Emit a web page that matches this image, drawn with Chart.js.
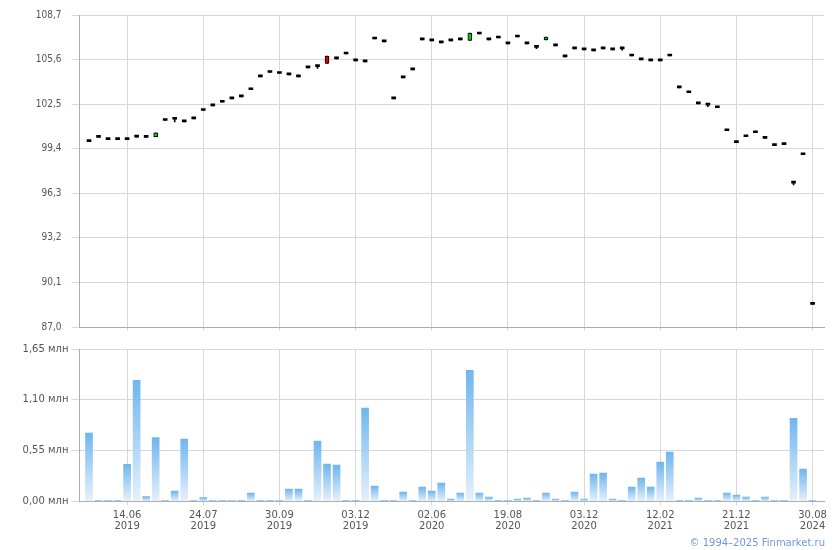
<!DOCTYPE html>
<html>
<head>
<meta charset="utf-8">
<script src="https://cdn.jsdelivr.net/npm/chart.js@4.4.1/dist/chart.umd.min.js"></script>
<style>
    body { margin: 0; background: #fff; }
    #wrap { position: relative; width: 840px; height: 550px; overflow: hidden; }
    #priceChart { position: absolute; left: 0; top: -1.5px; }
    #volumeChart { position: absolute; left: 0; top: 335px; }
    #copy {
        position: absolute; right: 15px; top: 537px;
        font: 10px "DejaVu Sans"; color: #7396e0; white-space: nowrap;
    }
</style>
</head>
<body>
<div id="wrap">
    <canvas id="priceChart" width="840" height="344"></canvas>
    <canvas id="volumeChart" width="840" height="215"></canvas>
    <div id="copy">© 1994–2025 Finmarket.ru</div>
</div>
<script>
// prices, one candle per trading week (index 0..76)
const open = [
    99.89, 100.19, 100.03, 100.03, 100.03, 100.21, 100.19, 100.23, 101.36, 101.45,
    101.27, 101.48, 102.06, 102.38, 102.63, 102.87, 103.01, 103.50, 104.40, 104.70,
    104.63, 104.54, 104.40, 105.02, 105.11, 105.85, 105.65, 105.99, 105.51, 105.44,
    107.03, 106.83, 102.87, 104.33, 104.88, 106.97, 106.90, 106.76, 106.90, 106.97,
    106.94, 107.38, 106.97, 107.10, 106.69, 107.17, 106.69, 106.45, 106.97, 106.55,
    105.79, 106.34, 106.27, 106.20, 106.34, 106.27, 106.34, 105.85, 105.58, 105.51,
    105.51, 105.85, 103.63, 103.29, 102.52, 102.43, 102.25, 100.65, 99.82, 100.23,
    100.51, 100.12, 99.61, 99.68, 97.01, 98.98, 88.57
];
const close = [
    99.89, 100.19, 100.03, 100.03, 100.03, 100.21, 100.19, 100.51, 101.36, 101.45,
    101.27, 101.48, 102.06, 102.38, 102.63, 102.87, 103.01, 103.50, 104.40, 104.70,
    104.63, 104.54, 104.40, 105.02, 105.11, 105.34, 105.65, 105.99, 105.51, 105.44,
    107.03, 106.83, 102.87, 104.33, 104.88, 106.97, 106.90, 106.76, 106.90, 106.97,
    107.45, 107.38, 106.97, 107.10, 106.69, 107.17, 106.69, 106.45, 107.17, 106.55,
    105.79, 106.34, 106.27, 106.20, 106.34, 106.27, 106.34, 105.85, 105.58, 105.51,
    105.51, 105.85, 103.63, 103.29, 102.52, 102.43, 102.25, 100.65, 99.82, 100.23,
    100.51, 100.12, 99.61, 99.68, 97.01, 98.98, 88.57
];
const high = [
    99.89, 100.19, 100.03, 100.03, 100.03, 100.21, 100.19, 100.51, 101.36, 101.45,
    101.27, 101.48, 102.06, 102.38, 102.63, 102.87, 103.01, 103.50, 104.40, 104.70,
    104.63, 104.54, 104.40, 105.02, 105.11, 105.85, 105.65, 105.99, 105.51, 105.44,
    107.03, 106.83, 102.87, 104.33, 104.88, 106.97, 106.90, 106.76, 106.90, 106.97,
    107.45, 107.38, 106.97, 107.10, 106.69, 107.17, 106.69, 106.45, 107.17, 106.55,
    105.79, 106.34, 106.27, 106.20, 106.34, 106.27, 106.34, 105.85, 105.58, 105.51,
    105.51, 105.85, 103.63, 103.29, 102.52, 102.43, 102.25, 100.65, 99.82, 100.23,
    100.51, 100.12, 99.61, 99.68, 97.01, 98.98, 88.57
];
const low = [
    99.89, 100.19, 100.03, 100.03, 100.03, 100.21, 100.19, 100.23, 101.36, 101.27,
    101.27, 101.48, 102.06, 102.38, 102.63, 102.87, 103.01, 103.50, 104.40, 104.70,
    104.63, 104.54, 104.40, 105.02, 104.99, 105.34, 105.65, 105.99, 105.51, 105.44,
    107.03, 106.83, 102.87, 104.33, 104.88, 106.97, 106.90, 106.76, 106.90, 106.97,
    106.94, 107.38, 106.97, 107.10, 106.69, 107.17, 106.69, 106.36, 106.97, 106.55,
    105.79, 106.34, 106.27, 106.20, 106.34, 106.27, 106.25, 105.85, 105.58, 105.51,
    105.51, 105.85, 103.63, 103.29, 102.52, 102.33, 102.25, 100.65, 99.82, 100.23,
    100.51, 100.12, 99.61, 99.68, 96.88, 98.98, 88.57
];

// volume, mln
const volume = [
    0.74, 0.01, 0.01, 0.01, 0.40, 1.31, 0.05, 0.69, 0.01, 0.11,
    0.675, 0.01, 0.04, 0.01, 0.01, 0.01, 0.01, 0.09, 0.01, 0.01,
    0.01, 0.133, 0.133, 0.01, 0.653, 0.404, 0.393, 0.01, 0.01, 1.01,
    0.166, 0.01, 0.01, 0.10, 0.01, 0.155, 0.11, 0.198, 0.025, 0.09,
    1.42, 0.09, 0.047, 0.01, 0.01, 0.025, 0.036, 0.01, 0.09, 0.025,
    0.01, 0.10, 0.025, 0.296, 0.307, 0.025, 0.01, 0.155, 0.252, 0.155,
    0.426, 0.534, 0.01, 0.01, 0.036, 0.01, 0.01, 0.09, 0.068, 0.047,
    0.01, 0.047, 0.01, 0.01, 0.90, 0.35, 0.01
];

// x-axis labels
const tickIndex = [4, 12, 20, 28, 36, 44, 52, 60, 68, 76];
const tickDates = ["14.06", "24.07", "30.09", "03.12", "02.06", "19.08", "03.12", "12.02", "21.12", "30.08"];
const tickYears = ["2019", "2019", "2019", "2019", "2020", "2020", "2020", "2021", "2021", "2024"];

const priceTicks = [87.0, 90.1, 93.2, 96.3, 99.4, 102.5, 105.6, 108.7];
const volumeTicks = [0, 0.55, 1.10, 1.65];

const gridColor = "#d5d9dd";
const axisColor = "#a8adb3";
const textColor = "#555555";
const font = { family: "DejaVu Sans", size: 10 };
const narrowFont = { family: '"Liberation Sans Narrow", "DejaVu Sans Condensed", "DejaVu Sans"', size: 10 };

const bodyColors = open.map((o, i) => {
    const d = close[i] - o;
    if (d > 0.15) return "#13c313";
    if (d < -0.15) return "#e00000";
    return "#000000";
});

const xScale = (showLabels) => ({
    type: "linear",
    offset: false,
    min: -1,
    max: 77.2,
    afterBuildTicks: (scale) => {
        scale.ticks = tickIndex.map(v => ({ value: v }));
    },
    afterFit: showLabels ? (scale) => { scale.height = 48.7; } : undefined,
    grid: { offset: false, color: gridColor, tickColor: gridColor, tickLength: 4 },
    border: { color: axisColor },
    ticks: {
        display: showLabels,
        autoSkip: false,
        maxRotation: 0,
        padding: 5,
        color: textColor,
        font: { family: "DejaVu Sans", size: 10, lineHeight: 1.1 },
        callback: (v) => {
            const k = tickIndex.indexOf(v);
            return k < 0 ? "" : [tickDates[k], tickYears[k]];
        }
    }
});

new Chart(document.getElementById("priceChart"), {
    type: "bar",
    data: {
        datasets: [{
            label: "body",
            data: open.map((o, i) => ({ x: i, y: [Math.min(o, close[i]), Math.max(o, close[i])] })),
            backgroundColor: bodyColors,
            borderColor: "#000000",
            borderWidth: bodyColors.map(c => c === "#000000" ? 0 : 1),
            borderSkipped: false,
            barThickness: 4,
            minBarLength: 2,
            grouped: false,
            order: 1
        }, {
            label: "wick",
            data: low.map((l, i) => ({ x: i, y: [l, high[i]] })),
            backgroundColor: "#000000",
            borderWidth: 0,
            barThickness: 1,
            grouped: false,
            order: 2
        }]
    },
    options: {
        responsive: false,
        animation: false,
        layout: { padding: { top: 14.5, right: 16, left: 0, bottom: 0 } },
        scales: {
            x: xScale(false),
            y: {
                min: 87.0,
                max: 108.7,
                afterBuildTicks: (scale) => {
                    scale.ticks = priceTicks.map(v => ({ value: v }));
                },
                afterFit: (scale) => { scale.width = 79.5; },
                grid: { color: gridColor, tickColor: gridColor, tickLength: 8 },
                border: { color: axisColor },
                ticks: {
                    padding: 10,
                    color: textColor,
                    font: narrowFont,
                    callback: (v) => v.toFixed(1).replace(".", ",")
                }
            }
        },
        plugins: {
            legend: { display: false },
            tooltip: { enabled: false }
        }
    }
});

// vertical gradient for each volume bar
const volumeFill = (c) => {
    const chart = c.chart;
    const y = chart.scales.y;
    if (!chart.chartArea || !y || !c.parsed) return "#a6d1f5";
    const top = y.getPixelForValue(c.parsed.y);
    const base = y.getPixelForValue(0);
    if (!isFinite(top) || base - top < 1) return "#9ccbf3";
    const g = chart.ctx.createLinearGradient(0, top, 0, base);
    g.addColorStop(0, "#6fb6ef");
    g.addColorStop(1, "#e6f1fb");
    return g;
};

new Chart(document.getElementById("volumeChart"), {
    type: "bar",
    data: {
        datasets: [{
            label: "volume",
            data: volume.map((v, i) => ({ x: i, y: v })),
            backgroundColor: volumeFill,
            borderWidth: 0,
            barThickness: 7
        }]
    },
    options: {
        responsive: false,
        animation: false,
        layout: { padding: { top: 14, right: 16, left: 0, bottom: 0 } },
        scales: {
            x: xScale(true),
            y: {
                min: 0,
                max: 1.65,
                afterBuildTicks: (scale) => {
                    scale.ticks = volumeTicks.map(v => ({ value: v }));
                },
                afterFit: (scale) => { scale.width = 79.5; },
                grid: { color: gridColor, tickColor: gridColor, tickLength: 8 },
                border: { color: axisColor },
                ticks: {
                    padding: 3,
                    color: textColor,
                    font: font,
                    callback: (v) => v.toFixed(2).replace(".", ",") + " млн"
                }
            }
        },
        plugins: {
            legend: { display: false },
            tooltip: { enabled: false }
        }
    }
});
</script>
</body>
</html>
